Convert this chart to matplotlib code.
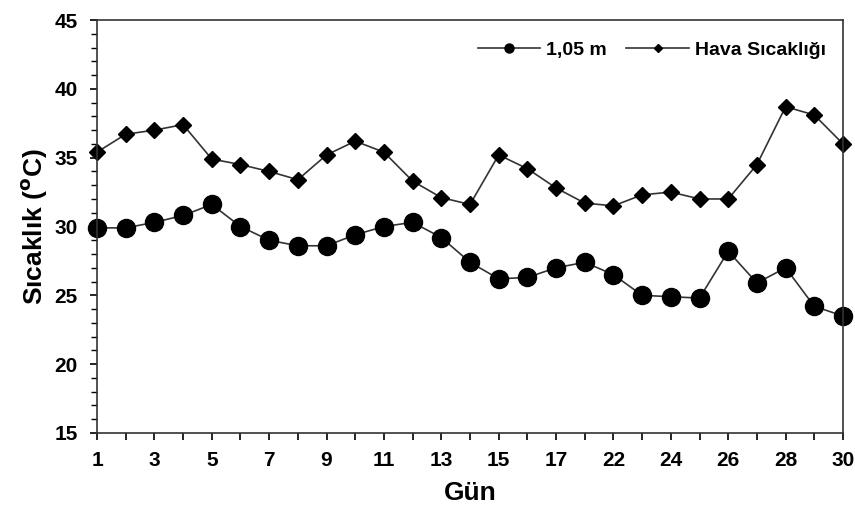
import numpy as np
import matplotlib.pyplot as plt

# days on the x axis (one unlabeled day sits between 17 and 22)
days = [1, 2, 3, 4, 5, 6, 7, 8, 9, 10, 11, 12, 13, 14, 15, 16, 17,
        21, 22, 23, 24, 25, 26, 27, 28, 29, 30]

# soil temperature at 1.05 m
soil = [29.9, 29.9, 30.3, 30.8, 31.6, 30.0, 29.0, 28.6, 28.6, 29.4, 30.0, 30.3,
        29.2, 27.4, 26.2, 26.3, 27.0, 27.4, 26.5, 25.0, 24.9, 24.8, 28.2, 25.9,
        27.0, 24.2, 23.5]

# air temperature
air = [35.4, 36.7, 37.0, 37.4, 34.9, 34.5, 34.0, 33.4, 35.2, 36.2, 35.4, 33.3,
       32.1, 31.6, 35.2, 34.2, 32.8, 31.7, 31.5, 32.3, 32.5, 32.0, 32.0, 34.5,
       38.7, 38.1, 36.0]

plt.rcParams['font.family'] = ['Liberation Sans', 'DejaVu Sans']
plt.rcParams['font.weight'] = 'bold'

x = np.arange(len(days))
fig = plt.figure(figsize=(8.55, 5.16), dpi=100)
ax = fig.add_axes([97/855, 1 - 433/516, (843 - 97)/855, (433 - 20)/516])

ax.plot(x, soil, color='#333333', lw=1.2, marker='o', ms=13,
        mfc='black', mec='black', label='1,05 m', clip_on=False)
ax.plot(x, air, color='#333333', lw=1.2, marker='D', ms=8.5,
        mfc='black', mec='black', label='Hava Sıcaklığı', clip_on=False)

ax.set_xlim(0, len(days) - 1)
ax.set_ylim(15, 45)
ax.set_xticks(x)
ax.set_xticklabels([str(d) if i % 2 == 0 else '' for i, d in enumerate(days)])
ax.set_yticks(np.arange(15, 46, 5))
ax.set_yticks(np.arange(15, 46, 1), minor=True)
ax.tick_params(axis='both', which='major', labelsize=15, length=5, width=1.2,
               direction='out')
ax.tick_params(axis='y', which='major', pad=9)
ax.tick_params(axis='x', which='major', pad=8)
ax.tick_params(axis='y', which='minor', length=4, width=1.0, direction='out')
for s in ax.spines.values():
    s.set_linewidth(1.2)
    s.set_color('#333333')

ax.set_xlabel('Gün', fontsize=19, fontweight='bold', labelpad=8)
ax.set_ylabel('Sıcaklık ($\\mathbf{^{o}}$C)', fontsize=19, fontweight='bold', labelpad=4)

leg = ax.legend(loc='upper right', ncol=2, frameon=False, fontsize=14,
                markerscale=0.5, handlelength=3.2, columnspacing=1.0,
                handletextpad=0.3, bbox_to_anchor=(1.0, 0.99))

fig.savefig('out.png', dpi=100)
